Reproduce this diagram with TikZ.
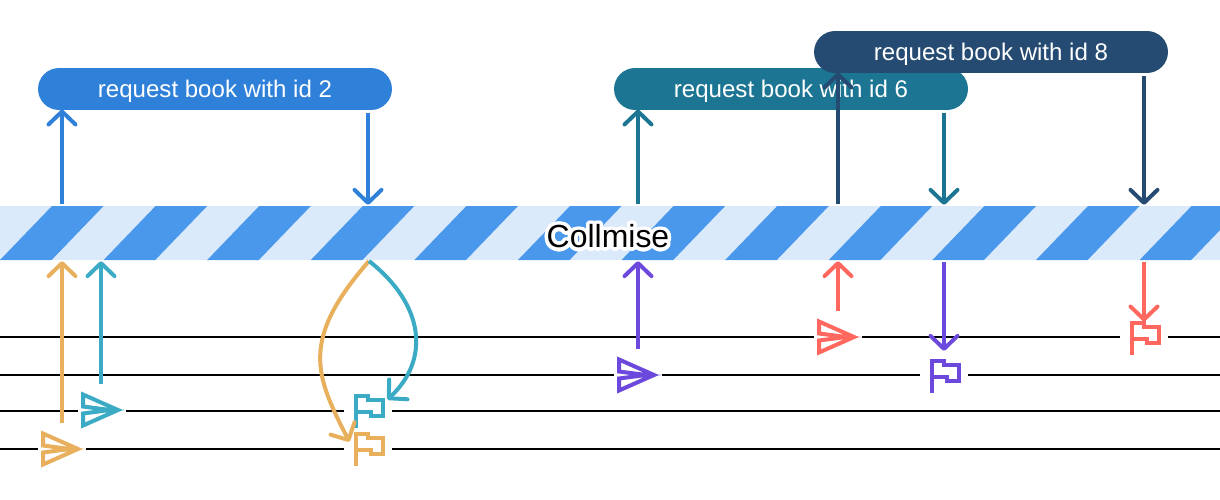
\documentclass[tikz,border=0pt]{standalone}
\usepackage{fontspec}
\setmainfont{Liberation Sans}
\usepackage[copies]{contour}
\usetikzlibrary{arrows.meta, shapes.misc}

\definecolor{reqblue}{HTML}{2F80D8}
\definecolor{reqteal}{HTML}{1C7693}
\definecolor{reqnavy}{HTML}{254B72}
\definecolor{stripeblue}{HTML}{4A98EC}
\definecolor{stripelight}{HTML}{DBEAFA}
\definecolor{userorange}{HTML}{E8B05C}
\definecolor{usercyan}{HTML}{3BAAC4}
\definecolor{userpurple}{HTML}{6C48DC}
\definecolor{userred}{HTML}{FF675F}

\tikzset{
  req/.style={rounded rectangle, minimum width=7.08cm, minimum height=0.84cm, inner sep=0pt, text=white, text depth=0cm, font=\fontsize{13.7}{16}\selectfont},
  arr/.style={line width=0.08cm, -{Straight Barb[length=0.26cm,width=0.54cm,round]}, shorten >=-0.5pt},
  gap/.style={fill=white, inner sep=0pt, minimum width=0.96cm},
  planeicon/.pic={\draw[line width=0.08cm, miter limit=10] (-19,-15.5) -- (16,0) -- (-19,15.5) -- (-19,3.5) -- (8,0) -- (-19,-3.5) -- cycle;},
  flagicon/.pic={\draw[line width=0.08cm] (-12,17) -- (-12,-15) -- (0,-15) -- (0,-11) -- (15,-11) -- (15,4.5) -- (3,4.5) -- (3,1) -- (-12,1);}
}

\begin{document}
\begin{tikzpicture}[x=0.02cm,y=-0.02cm]
  \useasboundingbox (0,0) rectangle (1220,500);

  % the shared bar
  \node[fill=stripelight, minimum width=24.4cm, minimum height=1.08cm, inner sep=0pt] (strip) at (610,233) {};
  \begin{scope}
    \clip (0,206) rectangle (1220,260);
    \foreach \i in {0,...,12}
      \fill[stripeblue] ({52+103.6*\i},206) -- ({103.6+103.6*\i},206) -- ({51.6+103.6*\i},260) -- ({103.6*\i},260) -- cycle;
  \end{scope}
  \node[font=\fontsize{18.2}{22}\selectfont] (collmise) at (608,238) {\contourlength{0.07cm}\contournumber{32}\contour{white}{Collmise}};

  % timelines
  \draw[line width=0.04cm] (0,337) -- (1220,337);
  \draw[line width=0.04cm] (0,375) -- (1220,375);
  \draw[line width=0.04cm] (0,411) -- (1220,411);
  \draw[line width=0.04cm] (0,449) -- (1220,449);

  % requests
  \node[req, fill=reqblue] (reqA) at (215,89) {request book with id 2};
  \node[req, fill=reqteal] (reqB) at (791,89) {request book with id 6};
  \node[req, fill=reqnavy] (reqC) at (991,52) {request book with id 8};

  % senders
  \node[gap, minimum height=1.04cm] (planeA) at (62,449) {};
  \node[gap, minimum height=1.04cm] (planeB) at (102,410) {};
  \node[gap, minimum height=1.04cm] (planeC) at (638,375) {};
  \node[gap, minimum height=1.04cm] (planeD) at (838,337) {};
  \pic[userorange] at (planeA) {planeicon};
  \pic[usercyan] at (planeB) {planeicon};
  \pic[userpurple] at (planeC) {planeicon};
  \pic[userred] at (planeD) {planeicon};

  % receivers
  \node[gap, minimum height=0.68cm] (flagA) at (368,449) {};
  \node[gap, minimum height=0.68cm] (flagB) at (368,411) {};
  \node[gap, minimum height=0.68cm] (flagC) at (944,376) {};
  \node[gap, minimum height=0.68cm] (flagD) at (1144,338) {};
  \pic[userorange] at (flagA) {flagicon};
  \pic[usercyan] at (flagB) {flagicon};
  \pic[userpurple] at (flagC) {flagicon};
  \pic[userred] at (flagD) {flagicon};

  \coordinate (topA) at (62,204);
  \coordinate (topB) at (368,204);
  \coordinate (topC) at (638,204);
  \coordinate (topD) at (838,204);
  \coordinate (topE) at (944,204);
  \coordinate (topF) at (1144,204);
  \coordinate (lowA) at (62,262);
  \coordinate (lowB) at (101,262);
  \coordinate (lowC) at (369,261);
  \coordinate (lowD) at (638,262);
  \coordinate (lowE) at (838,262);
  \coordinate (lowF) at (944,262);
  \coordinate (lowG) at (1144,262);
  \coordinate (endE) at (944,350);
  \coordinate (endA) at (349,441);
  \coordinate (endB) at (388,399);

  \draw[arr, reqblue] (topA) -- (topA |- reqA.south);
  \draw[arr, reqblue] (topB |- reqA.south) ++(0,3) -- (topB);
  \draw[arr, reqteal] (topC) -- (topC |- reqB.south);
  \draw[arr, reqteal] (topE |- reqB.south) ++(0,3) -- (topE);
  \draw[arr, reqnavy] (topD) -- (topD |- reqC.south);
  \draw[arr, reqnavy] (topF |- reqC.south) ++(0,3) -- (topF);

  \draw[arr, userorange] (planeA.north) -- (lowA);
  \draw[arr, usercyan] (planeB.north -| lowB) -- (lowB);
  \draw[arr, userpurple] (planeC.north) -- (lowD);
  \draw[arr, userred] (planeD.north) -- (lowE);
  \draw[arr, userpurple] (lowF) -- (endE);
  \draw[arr, userred] (lowG) -- (flagD.north);
  \draw[arr, userorange] (lowC) .. controls (300,340) and (315,375) .. (endA);
  \draw[arr, usercyan] (lowC) .. controls (425,305) and (430,360) .. (endB);
\end{tikzpicture}
\end{document}
